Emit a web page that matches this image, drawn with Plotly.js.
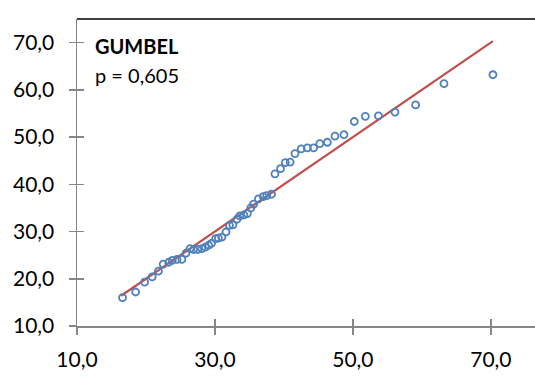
<!DOCTYPE html>
<html><head><meta charset="utf-8">
<script src="https://cdn.plot.ly/plotly-3.0.1.min.js"></script>
<style>html,body{margin:0;padding:0;background:#fff}#c{width:535px;height:385px}</style>
</head><body><div id="c"></div>
<script>
const obsX = [16.6,18.5,19.8,20.9,21.8,22.5,23.3,23.8,24.5,25.2,25.8,26.4,26.9,27.5,28.1,28.6,29.1,29.5,30.1,30.5,31.0,31.6,32.1,32.6,33.2,33.6,34.2,34.7,35.2,35.6,36.3,37.0,37.5,38.2,38.7,39.5,40.2,40.9,41.6,42.5,43.4,44.3,45.2,46.3,47.4,48.7,50.2,51.8,53.7,56.1,59.1,63.2,70.3];
const obsY = [16.0,17.2,19.3,20.4,21.6,23.1,23.5,23.9,24.1,24.1,25.4,26.4,26.2,26.2,26.4,26.7,27.1,27.5,28.5,28.6,28.8,29.9,31.3,31.4,32.6,33.3,33.5,33.8,35.0,35.8,36.9,37.4,37.6,37.9,42.2,43.3,44.6,44.7,46.5,47.5,47.7,47.7,48.6,48.9,50.2,50.5,53.3,54.4,54.5,55.3,56.8,61.3,63.2];
const lineX = [16.4, 70.3];
const lineY = [16.4, 70.3];
const tickVals = [10,30,50,70];
const tickText = ["10,0","30,0","50,0","70,0"];
const yTickVals = [10,20,30,40,50,60,70];
const yTickText = ["10,0","20,0","30,0","40,0","50,0","60,0","70,0"];
const titleText = "GUMBEL";
const pText = "p = 0,605";

const FONT = "Lato, 'Open Sans', sans-serif";
const axisCol = "#868686";
const xr = [10, 76.4], yr = [10, 75];

const traces = [
  {x: lineX, y: lineY, mode: "lines", line: {color: "#C0504D", width: 2.2}, hoverinfo: "skip"},
  {x: obsX, y: obsY, mode: "markers", marker: {symbol: "circle-open", size: 7, color: "#4F81BD", line: {width: 1.8, color: "#4F81BD"}}}
];
const layout = {
  width: 535, height: 385,
  margin: {l: 77, r: 0, t: 19, b: 59},
  paper_bgcolor: "#fff", plot_bgcolor: "#fff",
  showlegend: false,
  font: {family: FONT, size: 21, color: "#000"},
  xaxis: {range: xr, tickvals: tickVals, ticktext: tickText, showgrid: false, zeroline: false,
    showline: true, linecolor: axisCol, linewidth: 1.5, ticks: "outside", ticklen: 7, tickwidth: 1.5, tickcolor: axisCol,
    ticklabelstandoff: 7, tickfont: {family: FONT, size: 21, color: "#000"}},
  xaxis2: {range: xr, overlaying: "x", anchor: "y", side: "bottom", tickvals: tickVals, showticklabels: false,
    showgrid: false, zeroline: false, showline: false, ticks: "inside", ticklen: 7, tickwidth: 1.5, tickcolor: axisCol},
  yaxis: {range: yr, tickvals: yTickVals, ticktext: yTickText, showgrid: false, zeroline: false,
    showline: true, linecolor: axisCol, linewidth: 1.5, ticks: "outside", ticklen: 7, tickwidth: 1.5, tickcolor: axisCol,
    ticklabelstandoff: 10, tickfont: {family: FONT, size: 21, color: "#000"}},
  yaxis2: {range: yr, overlaying: "y", anchor: "x", side: "left", tickvals: yTickVals, showticklabels: false,
    showgrid: false, zeroline: false, showline: false, ticks: "inside", ticklen: 7, tickwidth: 1.5, tickcolor: axisCol},
  shapes: [
    {type: "line", xref: "paper", yref: "paper", x0: 0, x1: 1, y0: 1, y1: 1, line: {color: "#000", width: 1.3}}
  ],
  annotations: [
    {xref: "paper", yref: "paper", x: 0.035, y: 0.913, xanchor: "left", yanchor: "middle", showarrow: false,
     text: "<b>" + titleText + "</b>", font: {family: FONT, size: 20, color: "#000"}},
    {xref: "paper", yref: "paper", x: 0.035, y: 0.818, xanchor: "left", yanchor: "middle", showarrow: false,
     text: pText, font: {family: FONT, size: 20, color: "#000"}}
  ]
};
traces.push({x: [null], y: [null], xaxis: "x2", yaxis: "y2", hoverinfo: "skip"});
Plotly.newPlot("c", traces, layout, {displayModeBar: false, staticPlot: true});
</script></body></html>
